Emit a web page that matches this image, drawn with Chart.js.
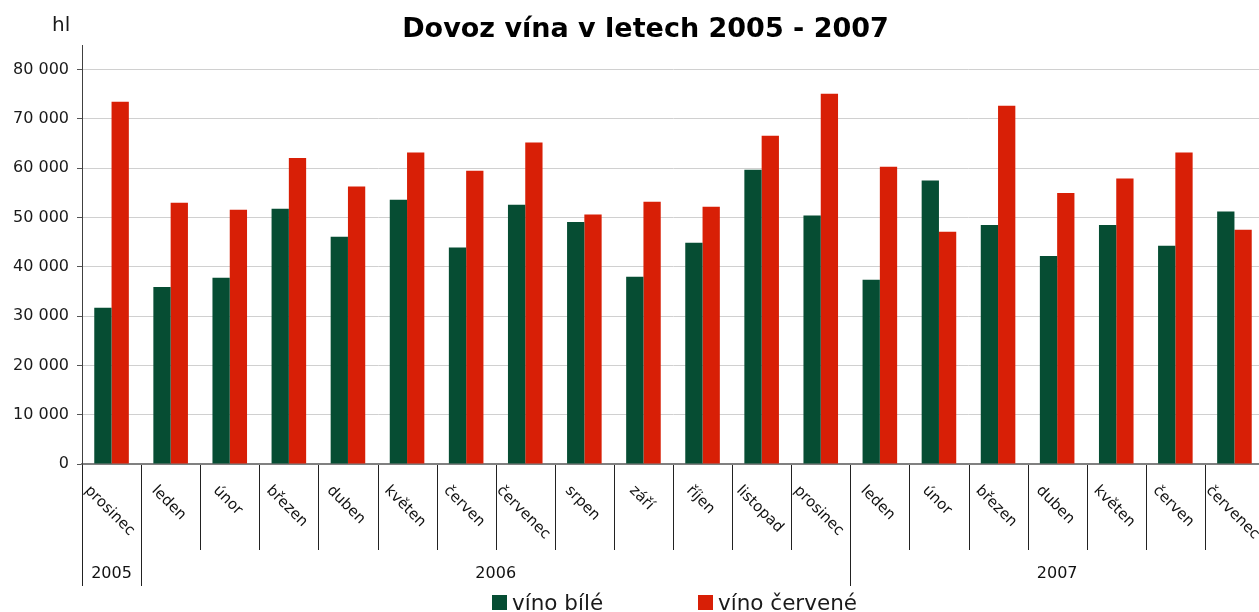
<!DOCTYPE html>
<html>
<head>
<meta charset="utf-8">
<script src="https://cdn.jsdelivr.net/npm/chart.js@4.4.1/dist/chart.umd.min.js"></script>
<style>
  html, body { margin: 0; padding: 0; background: #fff; overflow: hidden; }
  #wrap { width: 1259px; height: 612px; overflow: hidden; }
</style>
</head>
<body>
<div id="wrap"><canvas id="dovoz" width="1264" height="612"></canvas></div>
<script>
// Start Data
const months = ['prosinec', 'leden', 'únor', 'březen', 'duben', 'květen', 'červen', 'červenec', 'srpen', 'září', 'říjen', 'listopad',
                'prosinec', 'leden', 'únor', 'březen', 'duben', 'květen', 'červen', 'červenec'];
const years = ['2005', '2006', '2007'];
const yearSpans = [1, 12, 7]; // months in each year group
const whiteWine = [31700, 35900, 37800, 51800, 46100, 53600, 43900, 52600, 49100, 38000, 44900, 59700,
                   50400, 37400, 57500, 48500, 42200, 48500, 44300, 51200];
const redWine = [73500, 53000, 51600, 62100, 56300, 63200, 59500, 65200, 50600, 53200, 52200, 66600,
                 75100, 60300, 47100, 72700, 55000, 57900, 63200, 47500];
const yTicks = [0, 10000, 20000, 30000, 40000, 50000, 60000, 70000, 80000];
// End Data

Chart.defaults.font.family = '"DejaVu Sans"';
Chart.defaults.color = '#1a1a1a';

function spaced(v) {
  return String(v).replace(/\B(?=(\d{3})+(?!\d))/g, ' ');
}

// Start Custom Drawing (title, unit, bottom axis, legend)
const decorations = {
  id: 'decorations',
  afterDraw(chart) {
    const ctx = chart.ctx;
    const area = chart.chartArea;
    const x = chart.scales.x;
    const half = (x.getPixelForValue(1) - x.getPixelForValue(0)) / 2;
    const bottom = area.bottom;

    ctx.save();

    // title + unit
    ctx.fillStyle = '#000';
    ctx.textBaseline = 'alphabetic';
    ctx.textAlign = 'center';
    ctx.font = 'bold 27px "DejaVu Sans"';
    ctx.fillText('Dovoz vína v letech 2005 - 2007', 645.5, 37);
    ctx.textAlign = 'left';
    ctx.font = '20px "DejaVu Sans"';
    ctx.fillStyle = '#1a1a1a';
    ctx.fillText('hl', 52, 31);

    // separators
    const yearStarts = [0];
    let acc = 0;
    yearSpans.forEach(n => { acc += n; yearStarts.push(acc); });
    ctx.strokeStyle = '#222';
    ctx.lineWidth = 1;
    for (let i = 0; i < months.length; i++) {
      const px = Math.round(x.getPixelForValue(i) - half) + 0.5;
      const long = yearStarts.includes(i);
      ctx.beginPath();
      ctx.moveTo(px, bottom + 1);
      ctx.lineTo(px, bottom + (long ? 122 : 86));
      ctx.stroke();
    }

    // month labels
    ctx.font = '15px "DejaVu Sans"';
    ctx.fillStyle = '#111';
    ctx.textAlign = 'center';
    ctx.textBaseline = 'middle';
    months.forEach((m, i) => {
      const w = ctx.measureText(m).width;
      const cx = x.getPixelForValue(i) - 2;
      const cy = bottom + 19 + (w + 15) * 0.3536;
      ctx.save();
      ctx.translate(cx, cy);
      ctx.rotate(Math.PI / 4);
      ctx.fillText(m, 0, 0);
      ctx.restore();
    });

    // year labels
    ctx.font = '16px "DejaVu Sans"';
    years.forEach((yr, k) => {
      const a = x.getPixelForValue(yearStarts[k]) - half;
      const b = x.getPixelForValue(yearStarts[k + 1] - 1) + half;
      ctx.fillText(yr, (a + b) / 2, bottom + 110);
    });

    // legend
    const legendX = [492, 698];
    ctx.font = '21.5px "DejaVu Sans"';
    ctx.textAlign = 'left';
    ctx.textBaseline = 'alphabetic';
    chart.data.datasets.forEach((ds, k) => {
      ctx.fillStyle = ds.backgroundColor;
      ctx.fillRect(legendX[k], 595, 15, 15);
      ctx.fillStyle = '#1a1a1a';
      ctx.fillText(ds.label, legendX[k] + 20, 610);
    });

    ctx.restore();
  }
};
// End Custom Drawing

const ctx = document.getElementById('dovoz');

new Chart(ctx, {
  type: 'bar',
  data: {
    labels: months,
    datasets: [
      { label: 'víno bílé', data: whiteWine, backgroundColor: '#064d33' },
      { label: 'víno červené', data: redWine, backgroundColor: '#d81f06' }
    ]
  },
  options: {
    responsive: false,
    animation: false,
    devicePixelRatio: 1,
    layout: { padding: { top: 45, right: 0, bottom: 0, left: 0 } },
    datasets: {
      bar: { categoryPercentage: 0.585, barPercentage: 1, borderWidth: 0 }
    },
    plugins: {
      legend: { display: false },
      title: { display: false },
      tooltip: { enabled: false }
    },
    scales: {
      x: {
        grid: { display: false },
        ticks: { display: false },
        border: { display: true, color: '#808080', width: 2 },
        afterFit: s => { s.height = 148; }
      },
      y: {
        min: 0,
        max: 85000,
        afterBuildTicks: axis => { axis.ticks = yTicks.map(v => ({ value: v })); },
        ticks: {
          font: { size: 16 },
          color: '#1a1a1a',
          padding: 8,
          callback: v => spaced(v)
        },
        grid: { color: '#d0d0d0', lineWidth: 1, tickLength: 5, tickColor: '#555' },
        border: { color: '#404040', width: 1 },
        afterFit: s => { s.width = 82; }
      }
    }
  },
  plugins: [decorations]
});
</script>
</body>
</html>
